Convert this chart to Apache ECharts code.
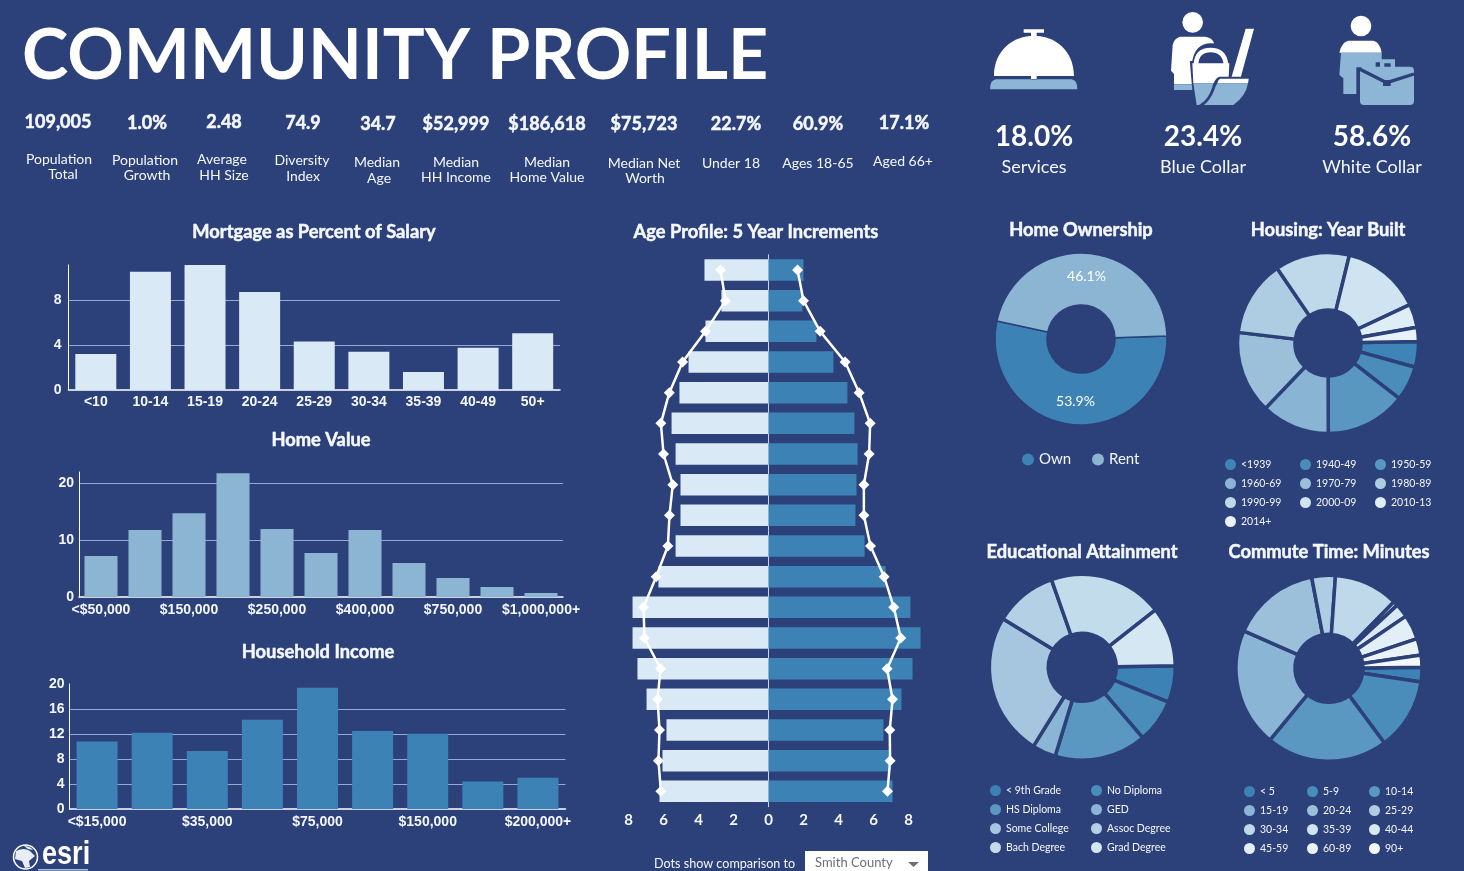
<!DOCTYPE html>
<html><head><meta charset="utf-8">
<style>html,body{margin:0;padding:0;background:#2c4079;overflow:hidden}#c{width:1464px;height:871px}</style>
<script src="https://cdn.jsdelivr.net/npm/echarts@6/dist/echarts.min.js"></script>
</head><body><div id="c"></div>
<script>
const BG='#2c4079', SANS='Lato, "Open Sans", sans-serif', ARIAL='"Liberation Sans", Arial, sans-serif';
const C_LIGHT='#d9e9f5', C_MID='#8cb5d4', C_DARK='#3d82b5', C_WHITE='#f4f7fb';

// Bar charts
const mortgageCats=['<10','10-14','15-19','20-24','25-29','30-34','35-39','40-49','50+'];
const mortgageVals=[3.2,10.5,11.1,8.7,4.3,3.4,1.6,3.75,5.05];
const homeValueCats=['<$50,000','$100,000','$150,000','$200,000','$250,000','$300,000','$400,000','$500,000','$750,000','$1,000,000','$1,000,000+'];
const homeValueVals=[7.2,11.8,14.76,21.8,11.95,7.73,11.8,5.98,3.34,1.76,0.7];
const incomeCats=['<$15,000','$25,000','$35,000','$50,000','$75,000','$100,000','$150,000','$200,000','$200,000+'];
const incomeVals=[10.8,12.2,9.3,14.3,19.4,12.5,12.05,4.4,5.0];

// Age pyramid, oldest first
const ageCats=['85+','80-84','75-79','70-74','65-69','60-64','55-59','50-54','45-49','40-44','35-39','30-34','25-29','20-24','15-19','10-14','5-9','0-4'];
const ageLeft=[3.66,2.69,3.6,4.57,5.09,5.54,5.31,5.03,5.03,5.31,6.29,7.77,7.77,7.49,6.97,5.83,6.06,6.23];
const ageRight=[2.0,1.94,2.74,3.71,4.51,4.91,5.09,5.03,4.97,5.49,6.69,8.11,8.69,8.23,7.6,6.57,6.97,7.09];
const dotsLeft=[2.74,2.46,3.6,4.91,5.67,6.15,6.0,5.47,5.66,5.75,6.42,7.14,7.09,6.17,6.34,6.23,6.29,6.15];
const dotsRight=[1.66,2.0,2.95,4.38,5.18,5.81,5.75,5.45,5.45,5.83,6.61,7.16,7.56,6.78,7.09,6.93,6.95,6.8];
const ageTicks=[-8,-6,-4,-2,0,2,4,6,8];

// Donuts
const ownNames=['Own','Rent'], ownVals=[53.9,46.1];
const yearNames=['<1939','1940-49','1950-59','1960-69','1970-79','1980-89','1990-99','2000-09','2010-13','2014+'];
const yearVals=[4.6,6.2,14.4,12.2,14.7,13.6,13.3,14.2,4.2,2.5];
const eduNames=['< 9th Grade','No Diploma','HS Diploma','GED','Some College','Assoc Degree','Bach Degree','Grad Degree'];
const eduVals=[6.4,7.6,16.0,4.1,24.9,10.9,19.8,10.3];
const commuteNames=['< 5','5-9','10-14','15-19','20-24','25-29','30-34','35-39','40-44','45-59','60-89','90+'];
const commuteVals=[2.5,12.5,21.1,20.6,15.4,4.1,11.2,0.8,2.4,4.3,2.9,2.1];
const yearColors=['#3f84b7','#4a8cba','#5997c1','#8ab4d3','#9cc0da','#aecde2','#bfd9ea','#cfe4f0','#dfedf6','#e9f2f9'];
const eduColors=['#3d82b5','#4a8cba','#5a98c2','#8bb5d4','#a5c6de','#b3d0e5','#c2dcec','#d5e7f3'];
const commuteColors=['#3d82b5','#4a8cba','#5a98c2','#8bb5d4','#9cc0da','#aecde2','#bfd9ea','#cfe4f0','#d9e9f4','#e2eff7','#ebf3f9','#f4f8fc'];

// Text blocks
const kpiValues=['109,005','1.0%','2.48','74.9','34.7','$52,999','$186,618','$75,723','22.7%','60.9%','17.1%'];
const kpiValueX=[58,147,224,303,378,456,547,644,736,818,904];
const kpiValueY=[121,122,121,122,123,123,123,123,123,123,122];
const kpiLabels=[['Population','Total'],['Population','Growth'],['Average','HH Size'],['Diversity','Index'],['Median','Age'],['Median','HH Income'],['Median','Home Value'],['Median Net','Worth'],['Under 18'],['Ages 18-65'],['Aged 66+']];
const kpiLabelX=[[59,63],[145,147],[222,224],[302,303],[377,379],[456,456],[547,547],[644,645],[731],[818],[903]];
const kpiLabelY=[[159,174],[160,175],[159,175],[160,176],[162,178],[162,177],[162,177],[163,178],[163],[163],[161]];
const jobValues=['18.0%','23.4%','58.6%'], jobLabels=['Services','Blue Collar','White Collar'], jobX=[1034,1203,1372];
const chartTitles=['Mortgage as Percent of Salary','Home Value','Household Income','Age Profile: 5 Year Increments','Home Ownership','Housing: Year Built','Educational Attainment','Commute Time: Minutes'];
const chartTitleX=[314,321,318,756,1081,1328,1082,1329];
const chartTitleY=[232,440,652,232,230,230,552,552];

const txt=(x,y,t,size,weight,extra)=>({type:'text',x,y,silent:true,style:Object.assign({text:t,fill:C_WHITE,font:`${weight} ${size}px ${SANS}`,textAlign:'center',textVerticalAlign:'middle'},extra||{})});
const graphics=[];
graphics.push(txt(22,56,'COMMUNITY PROFILE',70,700,{textAlign:'left',fill:'#fff'}));
kpiValues.forEach((v,i)=>{graphics.push(txt(kpiValueX[i],kpiValueY[i]+1,v,18,700,{stroke:C_WHITE,lineWidth:0.5}));
 kpiLabels[i].forEach((l,j)=>graphics.push(txt(kpiLabelX[i][j],kpiLabelY[i][j],l,14,400)));});
jobValues.forEach((v,i)=>{graphics.push(txt(jobX[i],137,v,28,700,{fill:'#fff'}));graphics.push(txt(jobX[i],167,jobLabels[i],18,400));});

// Icons, drawn in a 3x space and scaled down
let iconId=0;
const ic=(d,fill,stroke,lw)=>{const name='iconPath'+(iconId++);
 echarts.graphic.registerShape(name,echarts.graphic.extendPath(d,{}));
 return {type:name,shape:{},silent:true,style:{fill:fill||'none',stroke:stroke||'none',lineWidth:lw||0}};};
const WH='#ffffff', LB='#8db5d6';
graphics.push({type:'group',x:980,y:0,scaleX:1/3,scaleY:1/3,silent:true,children:[
 // bell
 ic('M131,88H192V98H170V110H153V98H131Z',WH),
 ic('M42,228C42,150 100,107 162,107C224,107 282,150 282,228H170V238H153V228Z',WH),
 ic('M48,238H153V240H170V238H275Q292,240 292,268H30Q30,240 48,238Z',LB),
 // blue collar
 {type:'circle',shape:{cx:638,cy:67,r:31},style:{fill:WH},silent:true},
 ic('M600,110H675Q697,112 702,130V253H582V222L573,212L578,135Q582,115 600,110Z',WH),
 ic('M582,253H640V270H582Z',LB),
 ic('M642,195C644,150 668,136 692,136C718,136 745,152 748,195Z',BG,BG,12),
 ic('M637,190H748L742,318H648Z',BG,BG,14),
 ic('M637,190H748L745,250H640Z',WH),
 ic('M640,250H745L740,315H650Z',LB),
 ic('M648,192C650,162 668,150 692,150C716,150 734,162 738,192',null,WH,14),
 ic('M797,86H822L780,240H752Z',WH),
 ic('M720,236H806Q804,290 760,315H668Q690,300 702,265Q708,240 720,236Z',BG,BG,12),
 ic('M720,236H806Q805,245 804,250H712Q714,240 720,236Z',WH),
 ic('M712,250H804Q797,290 760,315H672Q692,298 702,272Q706,258 712,250Z',LB),
 // white collar
 {type:'circle',shape:{cx:1143,cy:78,r:31},style:{fill:WH},silent:true},
 ic('M1105,122H1180Q1200,126 1205,158H1078Q1085,126 1105,122Z',WH),
 ic('M1083,158H1205V282H1090V235L1078,225Z',LB),
 ic('M1190,190H1255V205H1310V322H1132V205H1190Z',BG,BG,6),
 ic('M1200,178H1245V205H1232V190H1213V205H1200Z',LB),
 ic('M1152,200H1290Q1302,200 1302,212V303Q1302,315 1290,315H1152Q1140,315 1140,303V212Q1140,200 1152,200Z',LB),
 ic('M1140,208L1220,248L1302,222',null,BG,10),
 ic('M1209,240H1232V258H1209Z',BG)
]});

// Esri logo
graphics.push({type:'group',silent:true,children:[
 {type:'circle',shape:{cx:25.5,cy:857,r:12},style:{fill:'none',stroke:'#fff',lineWidth:1.5},silent:true},
 ic('M16,851Q24,847 30,851L35,856L29,861L30,867L25,868L22,861L15,859Z','#e8eef6'),
 ic('M24,846Q30,846 33,850L28,849Z','#e8eef6')
]});
graphics.push(Object.assign(txt(42,855,'esri',33,700,{textAlign:'left',fill:'#fff',font:`700 33px ${ARIAL}`}),{scaleX:0.82}));
graphics.push({type:'rect',shape:{x:38,y:869,width:50,height:1.5},style:{fill:'#aebfd8'},silent:true});

// Dropdown
graphics.push(txt(654,864,'Dots show comparison to',12.6,400,{textAlign:'left'}));
graphics.push({type:'rect',shape:{x:805,y:851,width:123,height:24},style:{fill:'#fff'},silent:true});
graphics.push(txt(815,863,'Smith County',13,400,{textAlign:'left',fill:'#6a6f78'}));
graphics.push({type:'polygon',shape:{points:[[908,862],[919,862],[913.5,867]]},style:{fill:'#6a6f78'},silent:true});

const gridLine={show:true,lineStyle:{color:'#93a9d8',width:1},showMinLine:false,showMaxLine:false};
const axisLbl={color:C_WHITE,fontFamily:ARIAL,fontWeight:700,fontSize:14};
function barAxes(i,cats,max,interval,skip,margin,xMargin){
 return {x:{type:'category',gridIndex:i,data:cats,axisTick:{show:false},axisLine:{lineStyle:{color:'#fff',width:1.5}},
   axisLabel:Object.assign({},axisLbl,{interval:skip,margin:xMargin,hideOverlap:false})},
  y:{type:'value',gridIndex:i,min:0,max,interval,axisTick:{show:false},axisLine:{show:true,lineStyle:{color:'#fff',width:1}},
   splitLine:gridLine,axisLabel:Object.assign({},axisLbl,{margin,showMaxLabel:max%interval===0})}};
}
const a0=barAxes(0,mortgageCats,11.11,4,0,7,5), a1=barAxes(1,homeValueCats,22,10,1,5,6), a2=barAxes(2,incomeCats,20,4,1,5,6);
a0.y.axisLabel.padding=[0,0,3,0];

const bar=(i,vals,color,w)=>({type:'bar',xAxisIndex:i,yAxisIndex:i,data:vals,barWidth:w,itemStyle:{color},silent:true,z:3});
function pie(names,vals,colors,cx,cy,r0,r1,bw,start,label){
 return {type:'pie',center:[cx,cy],radius:[r0,r1],startAngle:start,clockwise:true,silent:true,
  data:names.map((n,i)=>({name:n,value:vals[i],itemStyle:{color:colors[i]}})),
  itemStyle:{borderColor:BG,borderWidth:bw},
  label:label?{show:true,position:'inside',color:'#fff',fontFamily:SANS,fontSize:14,formatter:p=>p.value.toFixed(1)+'%'}:{show:false},
  labelLine:{show:false},emphasis:{disabled:true}};
}
function legend(names,left,top,size,w,gap){
 return {show:true,data:names,orient:'vertical',left,top,padding:0,itemWidth:w||11,itemHeight:w||11,itemGap:gap===undefined?8:gap,icon:'circle',selectedMode:false,
  itemStyle:{borderWidth:0},textStyle:{color:C_WHITE,fontFamily:SANS,fontSize:size||10.5,padding:[0,0,0,0],lineHeight:11}};
}
const every=(a,s,n)=>a.filter((_,i)=>i%n===s);

const option={
 backgroundColor:BG,animation:false,
 title:chartTitles.map((t,i)=>({text:t,left:chartTitleX[i],top:chartTitleY[i]-10,textAlign:'center',padding:0,
   textStyle:{color:C_WHITE,fontFamily:SANS,fontWeight:700,fontSize:18.3,lineHeight:20,textBorderColor:C_WHITE,textBorderWidth:0.5}})),
 grid:[
  {left:68.5,width:491.5,top:265,height:125},
  {left:79,width:484,top:472,height:125},
  {left:69.5,width:496,top:684,height:125},
  {left:614,width:309,top:254.67,height:552}
 ],
 xAxis:[a0.x,a1.x,a2.x,{type:'value',gridIndex:3,min:-8.83,max:8.83,splitLine:{show:false},axisTick:{show:false},
   axisLine:{onZero:false,lineStyle:{color:'#fff',width:1}},
   axisLabel:Object.assign({},axisLbl,{fontFamily:SANS,fontSize:15,margin:6,customValues:ageTicks,formatter:v=>String(Math.abs(v))})}],
 yAxis:[a0.y,a1.y,a2.y,{type:'category',gridIndex:3,inverse:true,data:ageCats,axisTick:{show:false},axisLabel:{show:false},
   axisLine:{onZero:true,lineStyle:{color:'#c9d6ea',width:1}}}],
 legend:[
  legend(['Own'],1022,452,15,12,0),
  legend(['Rent'],1092,452,15,12,0),
  legend(every(yearNames,0,3),1225,459),legend(every(yearNames,1,3),1300,459),legend(every(yearNames,2,3),1375,459),
  legend(every(eduNames,0,2),990,785),legend(every(eduNames,1,2),1091,785),
  legend(every(commuteNames,0,3),1244,786),legend(every(commuteNames,1,3),1307,786),legend(every(commuteNames,2,3),1369,786)
 ],
 graphic:{elements:graphics},
 series:[
  bar(0,mortgageVals,C_LIGHT,41),
  bar(1,homeValueVals,C_MID,33),
  bar(2,incomeVals,C_DARK,41),
  {type:'bar',xAxisIndex:3,yAxisIndex:3,stack:'a',data:ageLeft.map(v=>-v),barWidth:21.5,itemStyle:{color:C_LIGHT},silent:true},
  {type:'bar',xAxisIndex:3,yAxisIndex:3,stack:'a',data:ageRight,barWidth:21.5,itemStyle:{color:C_DARK},silent:true},
  {type:'line',xAxisIndex:3,yAxisIndex:3,data:dotsLeft.map(v=>-v),symbol:'diamond',symbolSize:11,showAllSymbol:true,lineStyle:{color:'#fff',width:2.5},itemStyle:{color:'#fff'},silent:true,z:5},
  {type:'line',xAxisIndex:3,yAxisIndex:3,data:dotsRight,symbol:'diamond',symbolSize:11,showAllSymbol:true,lineStyle:{color:'#fff',width:2.5},itemStyle:{color:'#fff'},silent:true,z:5},
  pie(ownNames,ownVals,[C_DARK,C_MID],1081,339,34,86,1.5,2,true),
  pie(yearNames,yearVals,yearColors,1328,343,33,90.5,3.5,1),
  pie(eduNames,eduVals,eduColors,1082.3,667.3,34,93,3.5,1),
  pie(commuteNames,commuteVals,commuteColors,1329,668.3,34,93,3.5,0.6)
 ]
};
const chart=echarts.init(document.getElementById('c'),null,{renderer:'canvas'});
chart.setOption(option);
</script></body></html>
